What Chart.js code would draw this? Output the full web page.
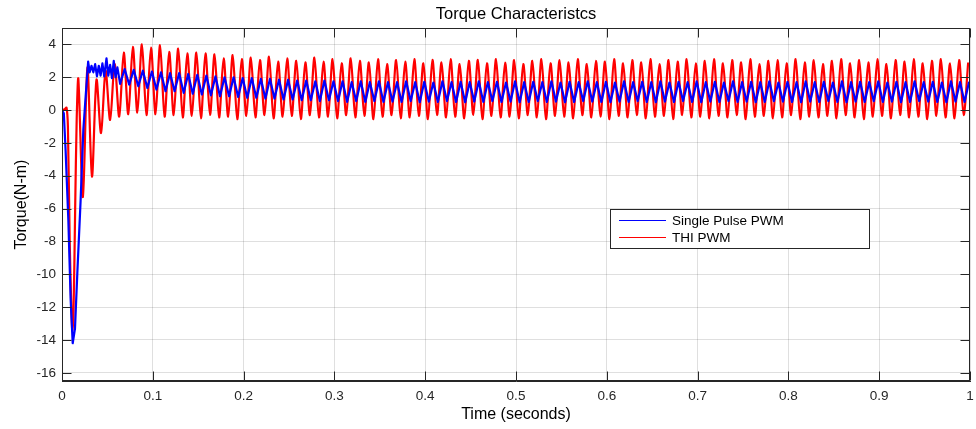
<!DOCTYPE html>
<html>
<head>
<meta charset="utf-8">
<script src="https://cdn.jsdelivr.net/npm/chart.js@4.4.1/dist/chart.umd.min.js"></script>
<style>
html,body{margin:0;padding:0;background:#fff;}
#wrap{width:976px;height:429px;}
</style>
</head>
<body>
<div id="wrap"><canvas id="c" width="976" height="429"></canvas></div>
<script>
// ---- data ----
const chartTitle = 'Torque Characteristcs';
const xLabel = 'Time (seconds)';
const yLabel = 'Torque(N-m)';
const seriesNames = ['Single Pulse PWM', 'THI PWM'];
const xTickVals = [0, 0.1, 0.2, 0.3, 0.4, 0.5, 0.6, 0.7, 0.8, 0.9, 1];
const xTickLabels = ['0', '0.1', '0.2', '0.3', '0.4', '0.5', '0.6', '0.7', '0.8', '0.9', '1'];
const yTickVals = [-16, -14, -12, -10, -8, -6, -4, -2, 0, 2, 4];
const yTickLabels = ['-16', '-14', '-12', '-10', '-8', '-6', '-4', '-2', '0', '2', '4'];

// ripple period of the steady-state torque (s)
const ripplePeriod = 0.01;

// THI PWM (red): start-up transient samples
const thiStartT = [0, 0.003, 0.005, 0.0065, 0.0085, 0.0112, 0.0125, 0.0145, 0.0162, 0.018];
const thiStartV = [0, 0.05, 0.15, -1.0, -8.0, -13.4, -12.8, -6.0, -0.5, 1.9];
// THI PWM ripple: troughs at 0.003 + k*period, peaks at 0.008 + k*period, k = 2..99
const thiFirstCycle = 2;
const thiTroughs = [
  -5.3, -4.05, -1.4, -0.6, -0.4, -0.25, -0.15, -0.3, -0.25, -0.4,
  -0.3, -0.45, -0.35, -0.5, -0.3, -0.45, -0.4, -0.55, -0.35, -0.45,
  -0.3, -0.5, -0.4, -0.35, -0.55, -0.3, -0.45, -0.4, -0.5, -0.3,
  -0.45, -0.35, -0.55, -0.4, -0.3, -0.5, -0.45, -0.35, -0.55, -0.3,
  -0.45, -0.4, -0.5, -0.3, -0.55, -0.35, -0.45, -0.4, -0.5, -0.3,
  -0.45, -0.55, -0.35, -0.4, -0.5, -0.3, -0.45, -0.4, -0.55, -0.35,
  -0.45, -0.3, -0.5, -0.4, -0.35, -0.55, -0.3, -0.45, -0.4, -0.5,
  -0.35, -0.45, -0.3, -0.55, -0.4, -0.35, -0.5, -0.45, -0.3, -0.55,
  -0.4, -0.45, -0.35, -0.5, -0.3, -0.45, -0.55, -0.4, -0.35, -0.5,
  -0.3, -0.45, -0.4, -0.55, -0.35, -0.45, -0.5, -0.3
];
const thiPeaks = [
  2.6, 1.85, 2.4, 2.8, 3.5, 3.85, 4.0, 3.8, 3.95, 3.55,
  3.75, 3.45, 3.5, 3.45, 3.4, 3.15, 3.35, 3.1, 3.2, 3.05,
  3.25, 2.95, 3.15, 3.0, 2.9, 3.2, 2.95, 3.1, 2.85, 3.15,
  3.0, 2.9, 3.1, 2.8, 3.05, 2.95, 3.1, 2.85, 3.05, 2.9,
  3.1, 2.8, 3.0, 3.05, 2.85, 3.1, 2.9, 3.05, 2.8, 3.0,
  3.1, 2.85, 3.05, 2.9, 3.1, 2.8, 3.0, 2.95, 3.1, 2.85,
  3.05, 2.9, 3.1, 2.8, 3.05, 2.95, 3.1, 2.85, 3.0, 3.1,
  2.85, 3.05, 2.9, 3.1, 2.8, 3.0, 3.05, 2.85, 3.1, 2.9,
  3.05, 2.8, 3.0, 3.1, 2.85, 3.05, 2.9, 3.1, 2.8, 3.05,
  2.95, 3.1, 2.85, 3.0, 3.1, 2.85, 3.05, 2.9
];
const thiTroughPhase = 0.003;
const thiPeakPhase = 0.008;

// Single pulse PWM (blue): start-up transient samples
const spStartT = [0, 0.002, 0.004, 0.007, 0.0095, 0.0118, 0.0143, 0.0169, 0.0205, 0.0235,
  0.026, 0.0288, 0.0305, 0.0325, 0.0345, 0.0365, 0.0385, 0.0405, 0.0425, 0.0445,
  0.0465, 0.049, 0.051, 0.053, 0.055, 0.057, 0.059, 0.061];
const spStartV = [0, -0.2, -2.5, -6.7, -11.5, -14.2, -13.3, -9.9, -5.5, -1.2,
  0.8, 2.95, 2.3, 2.7, 2.3, 2.8, 2.05, 2.7, 2.1, 2.85,
  2.05, 3.15, 2.1, 2.75, 1.95, 3.0, 2.0, 2.6];
// Single pulse ripple: lows at 0.004 + k*period, highs at 0.009 + k*period, k = 6..99
const spFirstCycle = 6;
const spLows = [
  1.6, 1.55, 1.45, 1.35, 1.25, 1.15, 1.15, 1.05, 1.0, 0.95,
  0.9, 0.85, 0.85, 0.8, 0.75, 0.75, 0.7, 0.7, 0.65, 0.65,
  0.6, 0.6, 0.55, 0.6, 0.55, 0.5, 0.55, 0.5, 0.55, 0.5,
  0.52, 0.5, 0.55, 0.48, 0.52, 0.5, 0.55, 0.5, 0.48, 0.52,
  0.5, 0.55, 0.5, 0.52, 0.48, 0.5, 0.55, 0.5, 0.52, 0.48,
  0.5, 0.55, 0.52, 0.5, 0.48, 0.52, 0.5, 0.55, 0.5, 0.48,
  0.52, 0.5, 0.55, 0.5, 0.48, 0.52, 0.5, 0.55, 0.5, 0.52,
  0.48, 0.5, 0.55, 0.52, 0.5, 0.48, 0.52, 0.5, 0.55, 0.5,
  0.48, 0.52, 0.5, 0.55, 0.5, 0.52, 0.48, 0.5, 0.55, 0.52,
  0.5, 0.48, 0.52, 0.5
];
const spHighs = [
  2.5, 2.45, 2.4, 2.35, 2.3, 2.25, 2.25, 2.2, 2.15, 2.1,
  2.05, 2.0, 2.0, 1.95, 1.95, 1.9, 1.9, 1.85, 1.85, 1.8,
  1.8, 1.75, 1.8, 1.75, 1.75, 1.7, 1.75, 1.7, 1.75, 1.7,
  1.7, 1.75, 1.7, 1.72, 1.68, 1.75, 1.7, 1.72, 1.7, 1.75,
  1.7, 1.72, 1.68, 1.75, 1.7, 1.72, 1.7, 1.75, 1.68, 1.72,
  1.7, 1.75, 1.7, 1.72, 1.68, 1.75, 1.7, 1.72, 1.7, 1.75,
  1.68, 1.72, 1.7, 1.75, 1.7, 1.72, 1.68, 1.75, 1.7, 1.72,
  1.7, 1.75, 1.68, 1.72, 1.7, 1.75, 1.7, 1.72, 1.68, 1.75,
  1.7, 1.72, 1.7, 1.75, 1.68, 1.72, 1.7, 1.75, 1.7, 1.72,
  1.68, 1.75, 1.7, 1.72
];
const spLowPhase = 0.004;
const spHighPhase = 0.009;

// ---- build point lists from the arrays ----
function buildSeries(startT, startV, firstCycle, lowPhase, lows, highPhase, highs) {
  const pts = startT.map((t, i) => ({ x: t, y: startV[i] }));
  for (let i = 0; i < lows.length; i++) {
    const k = firstCycle + i;
    pts.push({ x: lowPhase + ripplePeriod * k, y: lows[i] });
    pts.push({ x: highPhase + ripplePeriod * k, y: highs[i] });
  }
  return pts;
}
const spData = buildSeries(spStartT, spStartV, spFirstCycle, spLowPhase, spLows, spHighPhase, spHighs);
const thiData = buildSeries(thiStartT, thiStartV, thiFirstCycle, thiTroughPhase, thiTroughs, thiPeakPhase, thiPeaks);

const FONT = '"Liberation Sans", Arial, Helvetica, sans-serif';
const AXIS = '#262626';

const framePlugin = {
  id: 'frame',
  afterDatasetsDraw(chart) {
    const { ctx, chartArea: a, scales } = chart;
    ctx.save();
    ctx.strokeStyle = AXIS;
    ctx.lineWidth = 1;
    const L = Math.round(a.left) + 0.5, R = Math.round(a.right) - 0.5;
    const T = Math.round(a.top) + 0.5, B = Math.round(a.bottom) - 0.5;
    ctx.strokeRect(L, T, R - L, B - T);
    const tl = 9;
    ctx.beginPath();
    xTickVals.forEach(v => {
      const x = Math.round(scales.x.getPixelForValue(v)) + 0.5;
      ctx.moveTo(x, B); ctx.lineTo(x, B - tl);
      ctx.moveTo(x, T); ctx.lineTo(x, T + tl);
    });
    yTickVals.forEach(v => {
      const y = Math.round(scales.y.getPixelForValue(v)) + 0.5;
      ctx.moveTo(L, y); ctx.lineTo(L + tl, y);
      ctx.moveTo(R, y); ctx.lineTo(R - tl, y);
    });
    ctx.stroke();
    // title
    ctx.fillStyle = '#000';
    ctx.font = '16.5px ' + FONT;
    ctx.textAlign = 'center';
    ctx.textBaseline = 'middle';
    ctx.fillText(chartTitle, (a.left + a.right) / 2, 14);
    // legend box
    const bx = 610, by = 209, bw = 259, bh = 39;
    ctx.fillStyle = '#fff';
    ctx.fillRect(bx, by, bw, bh);
    ctx.strokeStyle = AXIS;
    ctx.strokeRect(bx + 0.5, by + 0.5, bw, bh);
    ctx.font = '13.5px ' + FONT;
    ctx.textAlign = 'left';
    chart.data.datasets.forEach((ds, i) => {
      const y = 220.5 + i * 17;
      ctx.strokeStyle = ds.borderColor;
      ctx.lineWidth = 1;
      ctx.beginPath();
      ctx.moveTo(619, y); ctx.lineTo(666, y);
      ctx.stroke();
      ctx.fillStyle = '#000';
      ctx.fillText(ds.label, 672, y + 0.5);
    });
    ctx.restore();
  }
};

new Chart(document.getElementById('c'), {
  type: 'line',
  data: {
    datasets: [
      { label: seriesNames[0], data: spData, borderColor: '#0000ff', borderWidth: 2.2, borderJoinStyle: 'round', pointRadius: 0, tension: 0, fill: false },
      { label: seriesNames[1], data: thiData, borderColor: '#ff0000', borderWidth: 2.2, borderJoinStyle: 'round', pointRadius: 0, tension: 0.3, fill: false }
    ]
  },
  options: {
    responsive: false,
    animation: false,
    events: [],
    layout: { padding: { left: 0, right: 6, top: 28, bottom: 0 } },
    plugins: { legend: { display: false }, title: { display: false }, tooltip: { enabled: false } },
    scales: {
      x: {
        type: 'linear', min: 0, max: 1,
        afterBuildTicks: s => { s.ticks = xTickVals.map(v => ({ value: v })); },
        afterFit: s => { s.height = 48; s.paddingRight = 0; s.paddingLeft = 0; },
        ticks: { callback: v => xTickLabels[xTickVals.indexOf(v)], font: { family: FONT, size: 13.5 }, color: AXIS, padding: 7, maxRotation: 0, autoSkip: false },
        grid: { color: 'rgba(38,38,38,0.15)', drawTicks: false },
        border: { display: true, color: AXIS },
        title: { display: true, text: xLabel, font: { family: FONT, size: 16 }, color: '#000', padding: { top: 0, bottom: 5 } }
      },
      y: {
        type: 'linear', min: -16.5, max: 5,
        afterBuildTicks: s => { s.ticks = yTickVals.map(v => ({ value: v })); },
        afterFit: s => { s.width = 62; s.paddingTop = 0; s.paddingBottom = 0; },
        ticks: { callback: v => yTickLabels[yTickVals.indexOf(v)], font: { family: FONT, size: 13.5 }, color: AXIS, padding: 6, autoSkip: false },
        grid: { color: 'rgba(38,38,38,0.15)', drawTicks: false },
        border: { display: true, color: AXIS },
        title: { display: true, text: yLabel, font: { family: FONT, size: 16 }, color: '#000', padding: { top: 12, bottom: 0 } }
      }
    }
  },
  plugins: [framePlugin]
});
</script>
</body>
</html>
